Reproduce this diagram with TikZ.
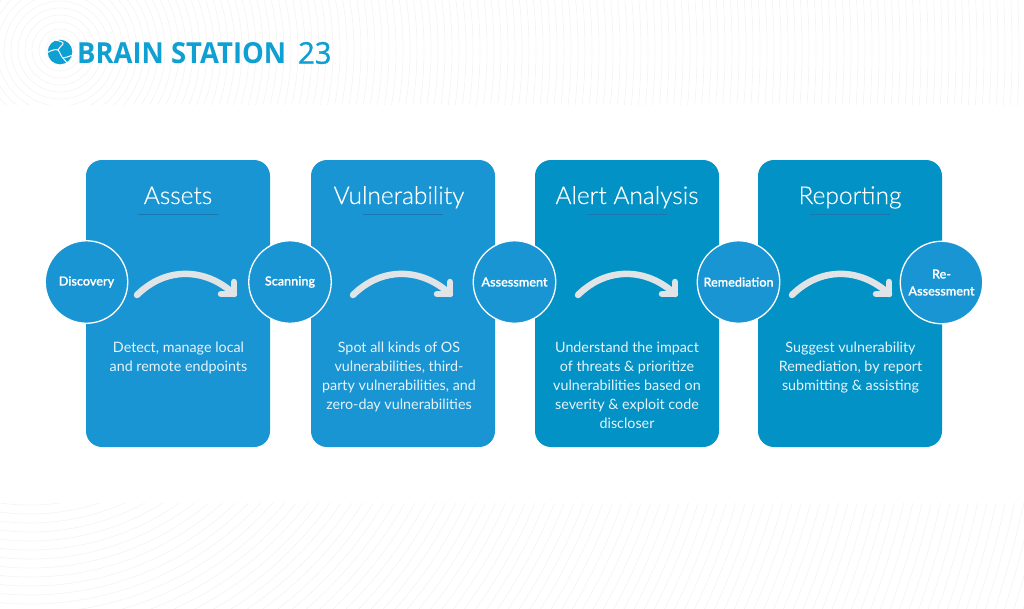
\documentclass[tikz,border=0pt]{standalone}
\usepackage{fontspec}
\setmainfont{Lato}
\newfontfamily\titlefont{Lato Light}[FakeBold=0.35]
\newfontfamily\stagefont{Lato Semibold}[FakeBold=0.2]
\newfontfamily\logofont{Open Sans}[BoldFont=* Bold]
\newfontfamily\yearfont{Open Sans}[FakeBold=1]
\usetikzlibrary{positioning}
\definecolor{cardblue}{HTML}{1995D3}
\definecolor{carddeep}{HTML}{0392C5}
\definecolor{logoblue}{HTML}{0E9FD3}
\definecolor{ringgray}{HTML}{F3F3F3}
\definecolor{bendgray}{HTML}{E0E4E6}
\definecolor{rulecol}{HTML}{1C77AE}
\definecolor{bodycol}{HTML}{E6F3FA}
\tikzset{
	cardbox/.style={minimum width=184pt,minimum height=287pt,rounded corners=16pt,inner sep=0pt},
	stagecirc/.style={circle,draw=white,line width=1.3pt,fill=cardblue,minimum size=82.5pt,inner sep=0pt,text=white,align=center,font=\fontsize{12.6}{17}\stagefont},
	cardtitle/.style={anchor=base,text=white,font=\fontsize{24.5}{28}\titlefont},
	cardtext/.style={text=bodycol,anchor=north,align=center,inner sep=0pt,font=\fontsize{14.3}{19}\selectfont},
	bendline/.style={draw=bendgray,line width=6.5pt,line cap=round,line join=round}
}
\begin{document}
\begin{tikzpicture}[x=1pt,y=-1pt]
	\useasboundingbox (0,0) rectangle (1024,608);
	% faint rings
	\begin{scope}
		\clip (0,0) rectangle (1024,104);
		\foreach \r in {7,14,...,1000}
			\draw [ringgray,line width=.6pt] (60,50) circle (\r);
	\end{scope}
	\begin{scope}
		\clip (0,503) rectangle (1024,608);
		\foreach \r in {215,224,...,1100}
			\draw [ringgray,line width=.6pt] (30,290) circle (\r);
	\end{scope}
	% logo
	\fill [logoblue] (60,52) circle (12.3);
	\draw [white,line width=1pt] (47,52.7) .. controls (52,50) and (56,49) .. (58,50) .. controls (60,52) and (61,57) .. (63,58) .. controls (66,58) and (69,56) .. (73,55);
	\draw [white,line width=1pt] (55,40) .. controls (60,41) and (64,42) .. (63,44) .. controls (62,46) and (59,47) .. (58,50);
	\draw [white,line width=1pt] (63,58) -- (68,64);
	\node (brand) [anchor=west,inner sep=0pt,xscale=.945,text=logoblue,font=\fontsize{29}{32}\logofont\bfseries] at (77,53) {BRAIN STATION};
	\node (brandnum) [anchor=west,inner sep=0pt,xscale=.97,text=logoblue,font=\fontsize{30}{32}\yearfont] at (298,53) {23};
	% cards
	\node (assets) [cardbox,fill=cardblue] at (178,303.5) {};
	\node (vuln) [cardbox,fill=cardblue] at (403,303.5) {};
	\node (alert) [cardbox,fill=carddeep] at (627,303.5) {};
	\node (report) [cardbox,fill=carddeep] at (850,303.5) {};
	% titles and rules
	\foreach \c/\n/\t in {178/assetstitle/Assets,399/vulntitle/Vulnerability,627/alerttitle/Alert Analysis,850/reporttitle/Reporting}
		\node (\n) [cardtitle] at (\c,204) {\t};
	\foreach \c/\s in {178/a,403/b,627/c,850/d}{
		\coordinate (rule\s l) at (\c-40,214.5);
		\coordinate (rule\s r) at (\c+40,214.5);
		\draw [rulecol,line width=.8pt] (rule\s l)--(rule\s r);
	}
	% body text
	\node (assetstext) [cardtext] at (178.5,341.5) {Detect, manage local\\and remote endpoints};
	\node (vulntext) [cardtext] at (399,341.5) {Spot all kinds of OS\\vulnerabilities, third-\\party vulnerabilities, and\\zero-day vulnerabilities};
	\node (alerttext) [cardtext] at (627,341.5) {Understand the impact\\of threats \& prioritize\\vulnerabilities based on\\severity \& exploit code\\discloser};
	\node (reporttext) [cardtext] at (850.5,341.5) {Suggest vulnerability\\Remediation, by report\\submitting \& assisting};
	% curved arrows
	\foreach \x/\s in {137/a,353/b,578/c,792/d}{
		\path (\x,295) coordinate (start\s)
			(\x+97,294) coordinate (tip\s)
			(\x+84,294) coordinate (headl\s)
			(\x+97,282) coordinate (headt\s);
		\draw [bendline] (start\s) .. controls (\x+28,267) and (\x+68,267) .. (tip\s);
		\draw [bendline] (headl\s)--(tip\s)--(headt\s);
	}
	% stage circles
	\node (discovery) [stagecirc] at (86.5,282) {Discovery};
	\node (scanning) [stagecirc] at (290,282) {Scanning};
	\node (assessment) [stagecirc] at (514.5,282) {Assessment};
	\node (remediation) [stagecirc] at (738.5,282) {Remediation};
	\node (reassess) [stagecirc] at (941.5,282.5) {Re-\\Assessment};
\end{tikzpicture}
\end{document}
